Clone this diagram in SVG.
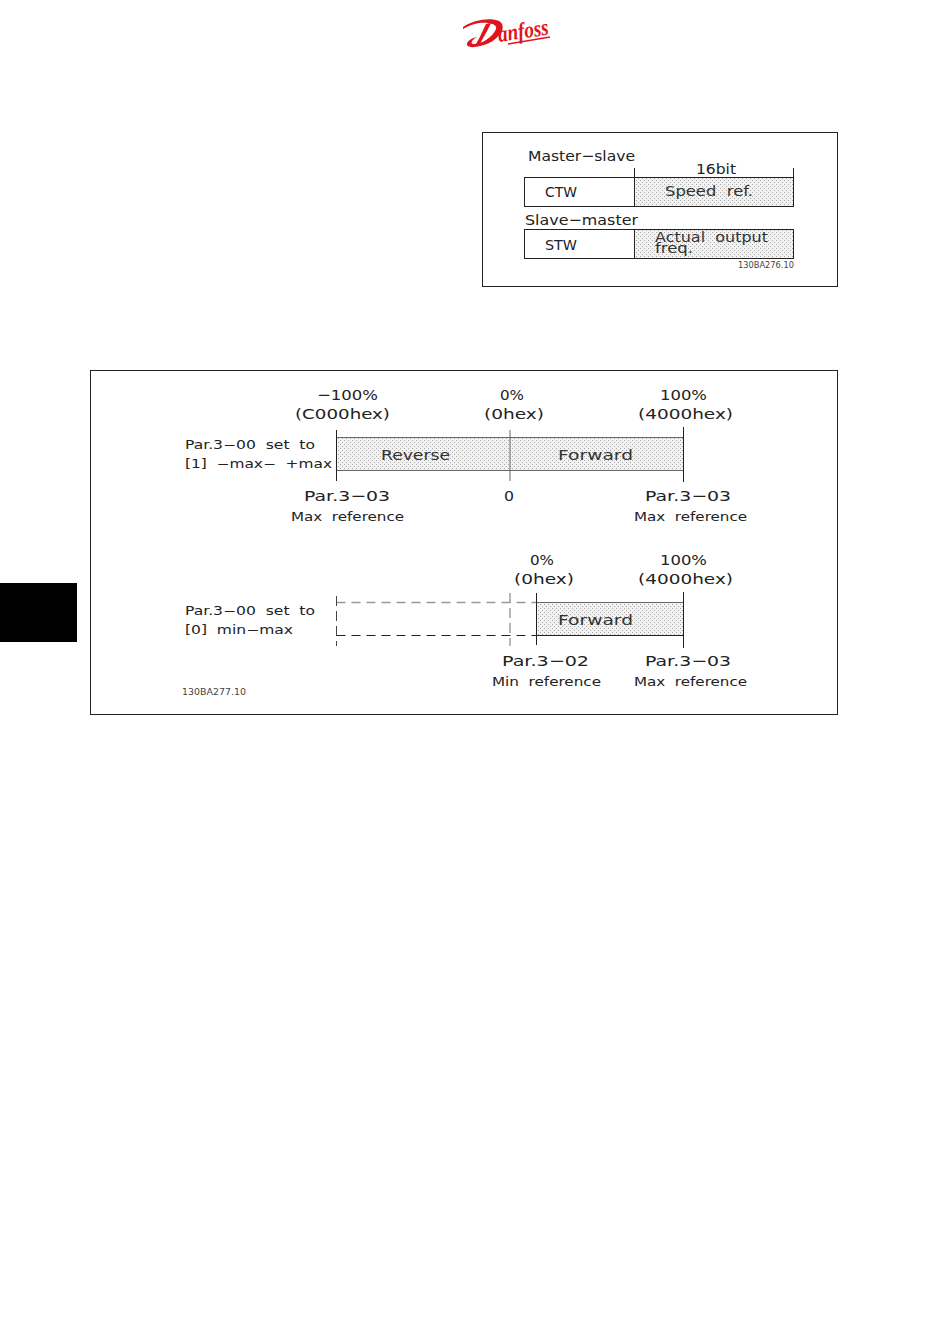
<svg xmlns="http://www.w3.org/2000/svg" width="950" height="1344" viewBox="0 0 950 1344">
<style>
text{font-family:"DejaVu Sans","Liberation Sans",sans-serif;fill:#222;font-size:14.5px;font-weight:normal;white-space:pre}
.m{font-size:12px}
.s{font-size:8px;fill:#444}
.o{fill:#333}
.f{fill:none;stroke:#222;stroke-width:1}
.g{stroke:#666;stroke-width:1;fill:none}
.d1{stroke:#999;stroke-width:1.4;stroke-dasharray:9 6;fill:none}
.d2{stroke:#222;stroke-width:1;stroke-dasharray:9 6;fill:none}
.v{stroke:#444;stroke-width:1;stroke-dasharray:10 5;fill:none}
.st{fill:url(#dots)}
</style>
<defs>
<pattern id="dots" width="4" height="4" patternUnits="userSpaceOnUse">
<rect width="4" height="4" fill="#f2f2f2"/>
<rect x="0" y="0" width="1" height="1" fill="#a8a8a8"/>
<rect x="2" y="2" width="1" height="1" fill="#a8a8a8"/>
</pattern>
</defs>
<rect width="950" height="1344" fill="#fff"/>
<g id="logo" fill="#e0141c">
<path d="M463 27C473 20 490 17 499 21C506 25 503 35 491 42C481 47 469 49 467 45C466 42 471 38 477 37C472 40 470 43 473 44C481 45 493 37 496 29C498 24 488 22 479 23C473 24 468 26 463 29Z"/>
<path d="M486 24C482 32 479 40 475 45L480 44C484 36 488 30 491 23Z"/>
<text x="499" y="42" transform="rotate(-8.5 499 42)" textLength="51" lengthAdjust="spacingAndGlyphs" style="font-family:'Liberation Serif',serif;font-style:italic;font-weight:bold;font-size:23px;fill:#e0141c">anfoss</text>
<path d="M508 44L550 37" stroke="#e0141c" stroke-width="1.5" fill="none"/>
</g>
<g id="side-tab"><rect x="0" y="583" width="77" height="59" fill="#000"/></g>

<g id="telegram-frame"><rect x="482.5" y="132.5" width="355" height="154" class="f"/></g>
<g id="ms-ctw"><rect x="524.5" y="177.5" width="110" height="29" class="f"/><text x="545" y="197" textLength="32" lengthAdjust="spacingAndGlyphs">CTW</text></g>
<g id="ms-speed"><rect x="634.5" y="177.5" width="159" height="29" class="st"/><rect x="634.5" y="177.5" width="159" height="29" class="f"/><text class="o" x="665" y="196" textLength="88" lengthAdjust="spacingAndGlyphs">Speed  ref.</text></g>
<g id="sm-stw"><rect x="524.5" y="229.5" width="110" height="29" class="f"/><text x="545" y="250" textLength="32" lengthAdjust="spacingAndGlyphs">STW</text></g>
<g id="sm-freq"><rect x="634.5" y="229.5" width="159" height="29" class="st"/><rect x="634.5" y="229.5" width="159" height="29" class="f"/><text class="o" x="655" y="242" textLength="113" lengthAdjust="spacingAndGlyphs">Actual  output</text><text class="o" x="655" y="253" textLength="38" lengthAdjust="spacingAndGlyphs">freq.</text></g>
<g id="telegram-labels">
<text x="528" y="161" textLength="107" lengthAdjust="spacingAndGlyphs">Master−slave</text>
<text x="696" y="174" textLength="40" lengthAdjust="spacingAndGlyphs">16bit</text>
<text x="525" y="225" textLength="113" lengthAdjust="spacingAndGlyphs">Slave−master</text>
<text class="s" x="738" y="268" textLength="56" lengthAdjust="spacingAndGlyphs">130BA276.10</text>
</g>

<g id="range-frame"><rect x="90.5" y="370.5" width="747" height="344" class="f"/><text class="s" x="182" y="695" textLength="64" lengthAdjust="spacingAndGlyphs">130BA277.10</text></g>

<g id="bar-reverse"><rect x="336.5" y="437.5" width="173.5" height="33" class="st"/><text class="o" x="381" y="460" textLength="69" lengthAdjust="spacingAndGlyphs">Reverse</text></g>
<g id="bar-forward"><rect x="510" y="437.5" width="173.5" height="33" class="st"/><text class="o" x="558" y="460" textLength="75" lengthAdjust="spacingAndGlyphs">Forward</text></g>
<g id="bar-forward-2"><rect x="536.5" y="602.5" width="147" height="33" class="st"/><text class="o" x="558" y="625" textLength="75" lengthAdjust="spacingAndGlyphs">Forward</text></g>

<g id="connectors">
<path class="f" d="M634.5 168V177.5M793.5 168V177.5"/>
<path class="g" d="M336.5 437.5H683.5M336.5 470.5H683.5"/>
<path class="f" d="M336.5 430V481M683.5 427V482"/>
<path class="g" d="M510 430V481"/>
<path class="d1" d="M336.5 602.5H536"/>
<path class="d2" d="M336.5 635.5H536"/>
<path class="g" d="M536.5 602.5H683.5"/>
<path class="f" d="M536.5 635.5H683.5M536.5 593V645M683.5 592V648"/>
<path class="v" d="M336.5 596V646"/>
<path class="d1" d="M510 593V646" style="stroke-dasharray:10 5"/>
</g>

<g id="labels-top">
<text x="317" y="400" textLength="61" lengthAdjust="spacingAndGlyphs">−100%</text>
<text x="295" y="419" textLength="95" lengthAdjust="spacingAndGlyphs">(C000hex)</text>
<text x="500" y="400" textLength="24" lengthAdjust="spacingAndGlyphs">0%</text>
<text x="484" y="419" textLength="60" lengthAdjust="spacingAndGlyphs">(0hex)</text>
<text x="660" y="400" textLength="47" lengthAdjust="spacingAndGlyphs">100%</text>
<text x="638" y="419" textLength="95" lengthAdjust="spacingAndGlyphs">(4000hex)</text>
<text class="m" x="185" y="449" textLength="130" lengthAdjust="spacingAndGlyphs">Par.3−00  set  to</text>
<text class="m" x="185" y="468" textLength="147" lengthAdjust="spacingAndGlyphs">[1]  −max−  +max</text>
<text x="304" y="501" textLength="86" lengthAdjust="spacingAndGlyphs">Par.3−03</text>
<text class="m" x="291" y="521" textLength="113" lengthAdjust="spacingAndGlyphs">Max  reference</text>
<text x="504" y="501" textLength="10" lengthAdjust="spacingAndGlyphs">0</text>
<text x="645" y="501" textLength="86" lengthAdjust="spacingAndGlyphs">Par.3−03</text>
<text class="m" x="634" y="521" textLength="113" lengthAdjust="spacingAndGlyphs">Max  reference</text>
</g>
<g id="labels-bottom">
<text x="530" y="565" textLength="24" lengthAdjust="spacingAndGlyphs">0%</text>
<text x="514" y="584" textLength="60" lengthAdjust="spacingAndGlyphs">(0hex)</text>
<text x="660" y="565" textLength="47" lengthAdjust="spacingAndGlyphs">100%</text>
<text x="638" y="584" textLength="95" lengthAdjust="spacingAndGlyphs">(4000hex)</text>
<text class="m" x="185" y="615" textLength="130" lengthAdjust="spacingAndGlyphs">Par.3−00  set  to</text>
<text class="m" x="185" y="634" textLength="108" lengthAdjust="spacingAndGlyphs">[0]  min−max</text>
<text x="502" y="666" textLength="87" lengthAdjust="spacingAndGlyphs">Par.3−02</text>
<text class="m" x="492" y="686" textLength="109" lengthAdjust="spacingAndGlyphs">Min  reference</text>
<text x="645" y="666" textLength="86" lengthAdjust="spacingAndGlyphs">Par.3−03</text>
<text class="m" x="634" y="686" textLength="113" lengthAdjust="spacingAndGlyphs">Max  reference</text>
</g>
</svg>
